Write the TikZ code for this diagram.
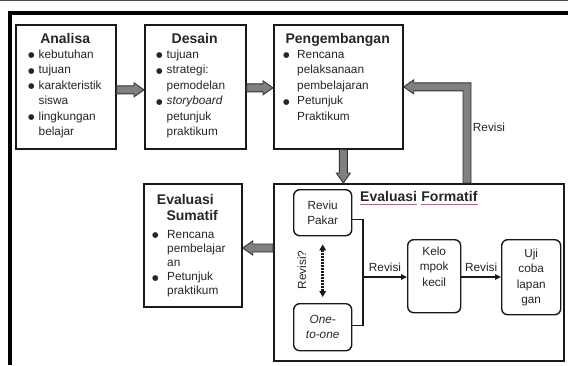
\documentclass[tikz,border=0pt]{standalone}
\usepackage{fontspec}
\setmainfont{Liberation Sans}
\newfontfamily\dejavu{DejaVu Sans}
\usetikzlibrary{calc,arrows.meta}
\newdimen\bulo
\newdimen\bulw
\newcommand\bdot{\raisebox{0.3pt}{\dejavu\fontsize{7.5}{7.5}\selectfont ●}}
\newcommand\bit{\par\hangindent=\bulw\hangafter=1\noindent\hbox to \bulw{\hskip\bulo\bdot\hss}\ignorespaces}
\newcommand\bodyfont{\fontsize{11.8}{15.5}\selectfont}
\newcommand\ttlfont{\fontsize{14}{16}\selectfont\bfseries}
\newcommand\ttl[1]{{\centering\ttlfont #1\par}\raggedright\hyphenpenalty=10000 }
\newcommand\rarrow[2]{\draw[barrow] let \p1=(#1), \p2=(#2) in (\x1,\y1+4) -- (\x2-10,\y1+4) -- (\x2-10,\y1+7) -- (\x2,\y1) -- (\x2-10,\y1-7) -- (\x2-10,\y1-4) -- (\x1,\y1-4) -- cycle;}
\newcommand\larrow[2]{\draw[barrow] let \p1=(#1), \p2=(#2) in (\x1,\y1+4) -- (\x2+10,\y1+4) -- (\x2+10,\y1+7) -- (\x2,\y1) -- (\x2+10,\y1-7) -- (\x2+10,\y1-4) -- (\x1,\y1-4) -- cycle;}
\newcommand\darrow[2]{\draw[barrow] let \p1=(#1), \p2=(#2) in (\x1-4,\y1) -- (\x1-4,\y2+10) -- (\x1-7,\y2+10) -- (\x1,\y2) -- (\x1+7,\y2+10) -- (\x1+4,\y2+10) -- (\x1+4,\y1) -- cycle;}
\newcommand\ularrow[2]{\draw[barrow] let \p1=(#1), \p2=(#2) in (\x1+4,\y1) -- (\x1+4,\y2+4) -- (\x2+10,\y2+4) -- (\x2+10,\y2+7) -- (\x2,\y2) -- (\x2+10,\y2-7) -- (\x2+10,\y2-4) -- (\x1-4,\y2-4) -- (\x1-4,\y1) -- cycle;}
\begin{document}
\begin{tikzpicture}[x=1pt,y=-1pt,
 mbox/.style={draw=black!90, line width=1.7pt, inner sep=0pt, anchor=north west},
 ibox/.style={draw=black!90, line width=1.4pt, rounded corners=6pt, inner sep=0pt, anchor=north west, align=center, font=\fontsize{11.8}{15.3}\selectfont, text=black!85},
 txt/.style={inner sep=0pt, anchor=north west, text=black!85, font=\bodyfont},
 barrow/.style={draw=black!80, fill=black!50, line width=0.9pt, line join=miter},
 conn/.style={draw=black!90, line width=1.3pt},
 tip/.style={-{Triangle[length=6pt,width=5.5pt]}},
 lbl/.style={inner sep=0pt, text=black!85, font=\fontsize{11.8}{14}\selectfont},
 pinkl/.style={draw={rgb,255:red,228;green,82;blue,130}, line width=0.8pt}]

\useasboundingbox (0,0) rectangle (568,365);
\fill[white] (0,0) rectangle (568,365);
\draw[line width=1pt, black!70] (0,0.5) -- (568,0.5);
\draw[line width=4pt, black] (10,365) -- (10,13) -- (568,13);

% main boxes
\node[mbox, minimum width=100, minimum height=124] (ana) at (15,24) {};
\node[mbox, minimum width=101, minimum height=124] (des) at (144,24) {};
\node[mbox, minimum width=129, minimum height=124] (peng) at (273,24) {};
\node[mbox, minimum width=98, minimum height=123] (sum) at (143,183) {};
\node[mbox, minimum width=290, minimum height=177] (form) at (273,183) {};

% contents
\node[txt, text width=100] (anat) at ($(ana.north west)+(0,9.3)$)
 {\ttl{Analisa}\bulo=13pt\bulw=23.5pt\vskip-1pt
  \bit kebutuhan\bit tujuan\bit karakteristik\newline siswa\bit lingkungan\newline belajar\par};
\node[txt, text width=101] (dest) at ($(des.north west)+(0,9.3)$)
 {\ttl{Desain}\bulo=12pt\bulw=22.5pt\vskip-1pt
  \bit tujuan\bit strategi:\newline pemodelan\bit \textit{storyboard}\newline petunjuk\newline praktikum\par};
\node[txt, text width=129] (pengt) at ($(peng.north west)+(0,9.3)$)
 {\ttl{Pengembangan}\bulo=10pt\bulw=24pt\vskip-1pt
  \bit Rencana\newline pelaksanaan\newline pembelajaran\bit Petunjuk\newline Praktikum\par};
\node[txt, text width=98, font=\fontsize{11.8}{14.2}\selectfont] (sumt) at ($(sum.north west)+(0,11.5)$)
 {\ttl{Evaluasi\newline Sumatif}\bulo=9pt\bulw=24pt\vskip3pt
  \bit Rencana\newline pembelajar\newline an\bit Petunjuk\newline praktikum\par};

% formatif inner
\node[ibox, minimum width=58, minimum height=46] (rp) at (293,189) {Reviu\\Pakar};
\node[ibox, minimum width=58, minimum height=47, font=\fontsize{11.8}{15.3}\selectfont\itshape] (oto) at (293,303) {One-\\to-one};
\node[ibox, minimum width=53, minimum height=73] (kel) at (407,239) {Kelo\\mpok\\kecil\\[4pt]};
\node[ibox, minimum width=59, minimum height=75] (uji) at (501,239) {\\[-6pt]Uji\\coba\\lapan\\gan};

\node[lbl, font=\fontsize{14}{16}\selectfont\bfseries, anchor=base west] (ef1) at (360,201) {Evaluasi};
\node[lbl, font=\fontsize{14}{16}\selectfont\bfseries, anchor=base west] (ef2) at ($(ef1.base east)+(4,0)$) {Formatif};
\draw[pinkl] ([yshift=-3pt]ef1.base west) -- ([yshift=-3pt]ef1.base east);
\draw[pinkl] ([yshift=-3pt]ef2.base west) -- ([yshift=-3pt]ef2.base east);

\coordinate (jn) at (363,277);
\draw[conn] ($(rp.east)+(0,7)$) -| (jn) |- ($(oto.east)+(0,-2)$);
\draw[conn, tip] (jn) -- (kel.west |- jn) node[lbl, midway, above=5pt] (rv1) {Revisi};
\draw[conn, tip] (kel.east |- jn) -- (uji.west |- jn) node[lbl, midway, above=5pt] (rv2) {Revisi};
\draw[line width=2.6pt, dash pattern=on 1.6pt off 1.4pt, black!90,
  {Triangle[length=6pt,width=6.5pt]}-{Triangle[length=6pt,width=6.5pt]},
  shorten >=6pt, shorten <=8pt] (rp.south) -- (oto.north);
\node[lbl, rotate=90] (rq) at (302,270) {Revisi?};

% block arrows
\rarrow{$(ana.east)+(0,3)$}{des.west}
\rarrow{$(des.east)+(0,1)$}{peng.west}
\darrow{$(peng.south)+(5,0)$}{form.north}
\larrow{$(form.north west)+(0,65)$}{sum.east}
\ularrow{$(form.north west)+(194,0)$}{peng.east}
\node[lbl] (rv3) at (489,127) {Revisi};
\end{tikzpicture}
\end{document}
